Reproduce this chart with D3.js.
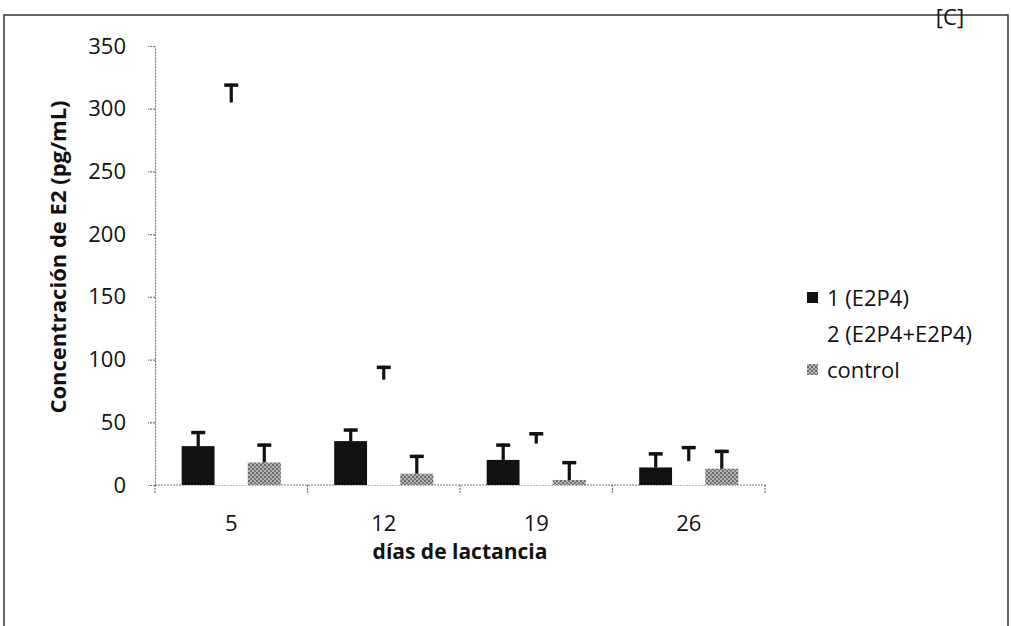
<!DOCTYPE html>
<html>
<head>
<meta charset="utf-8">
<script src="https://cdn.jsdelivr.net/npm/d3@7/dist/d3.min.js"></script>
<style>
  html, body { margin: 0; padding: 0; background: #fff; }
  svg { display: block; font-family: 'Open Sans', sans-serif; }
</style>
</head>
<body>
<div id="chart"></div>
<script>
// values
const days = ['5', '12', '19', '26'];
const seriesNames = ['1 (E2P4)', '2 (E2P4+E2P4)', 'control'];
const serie1 = [31, 35, 20, 14];
const serie1Err = [12, 10, 13, 12];
const serie2 = [305, 84, 33, 19];
const serie2Err = [15, 11, 9, 12];
const control = [18, 9, 4, 13];
const controlErr = [15, 15, 15, 15];
const yTicks = [0, 50, 100, 150, 200, 250, 300, 350];

const width = 1011;
const height = 626;

const svg = d3.select('#chart')
  .append('svg')
  .attr('width', width)
  .attr('height', height);

// stippled grey fill of the scanned control bars
const defs = svg.append('defs');
const pat = defs.append('pattern')
  .attr('id', 'stipple')
  .attr('width', 4)
  .attr('height', 4)
  .attr('patternUnits', 'userSpaceOnUse');
pat.append('rect').attr('width', 4).attr('height', 4).attr('fill', '#b4b4b4');
pat.append('rect').attr('width', 2).attr('height', 2).attr('fill', '#6a6a6a');
pat.append('rect').attr('x', 2).attr('y', 2).attr('width', 2).attr('height', 2).attr('fill', '#7a7a7a');

// outer frame (bottom edge is cut off in the scan)
svg.append('path')
  .attr('d', `M4,${height + 5}V15H1008V${height + 5}`)
  .attr('fill', 'none')
  .attr('stroke', '#333')
  .attr('stroke-width', 1.5);
svg.append('text')
  .attr('x', 950)
  .attr('y', 25)
  .attr('text-anchor', 'middle')
  .attr('font-size', 22)
  .attr('fill', '#111')
  .text('[C]');

const x = d3.scaleBand()
  .domain(days)
  .range([155, 765])
  .paddingInner(0.35)
  .paddingOuter(0.175);

const xSub = d3.scaleBand()
  .domain(d3.range(seriesNames.length))
  .range([0, x.bandwidth()]);

const y = d3.scaleLinear()
  .domain([0, 350])
  .range([485, 46]);

const axisStyle = g => {
  g.select('.domain').attr('stroke', '#777').attr('stroke-dasharray', '2,1').attr('stroke-width', 1.2);
  g.selectAll('.tick line').attr('stroke', '#777').attr('stroke-dasharray', '2,1').attr('stroke-width', 1.2);
  g.selectAll('.tick text')
    .attr('font-family', 'Open Sans, sans-serif')
    .attr('font-size', 22)
    .attr('fill', '#111');
};

// y axis
svg.append('g')
  .attr('transform', 'translate(155,0)')
  .call(d3.axisLeft(y).tickValues(yTicks).tickSize(7).tickPadding(22).tickSizeOuter(0))
  .call(axisStyle);

// x axis with ticks on category boundaries
const xAxis = svg.append('g')
  .attr('transform', `translate(0,${y(0)})`)
  .call(d3.axisBottom(x).tickSize(0).tickPadding(30).tickSizeOuter(0))
  .call(axisStyle);
xAxis.select('.domain').attr('d', `M155,0H766`);
xAxis.selectAll('.bound')
  .data(d3.range(days.length + 1))
  .join('line')
  .attr('class', 'bound')
  .attr('x1', i => 155 + i * x.step())
  .attr('x2', i => 155 + i * x.step())
  .attr('y1', 0)
  .attr('y2', 8)
  .attr('stroke', '#777')
  .attr('stroke-dasharray', '2,1')
  .attr('stroke-width', 1.2);

// bars
const series = [
  {values: serie1, err: serie1Err, fill: '#111'},
  {values: serie2, err: serie2Err, fill: '#fff'},
  {values: control, err: controlErr, fill: 'url(#stipple)'}
];

series.forEach((s, si) => {
  const g = svg.append('g');
  g.selectAll('rect')
    .data(days)
    .join('rect')
    .attr('x', (d, i) => x(d) + xSub(si))
    .attr('y', (d, i) => y(s.values[i]))
    .attr('width', xSub.bandwidth())
    .attr('height', (d, i) => y(0) - y(s.values[i]))
    .attr('fill', s.fill);

  // upper error bars only
  const cx = d => x(d) + xSub(si) + xSub.bandwidth() / 2;
  g.selectAll('.stem')
    .data(days)
    .join('line')
    .attr('class', 'stem')
    .attr('x1', cx)
    .attr('x2', cx)
    .attr('y1', (d, i) => y(s.values[i]))
    .attr('y2', (d, i) => y(s.values[i] + s.err[i]))
    .attr('stroke', '#111')
    .attr('stroke-width', 3.2);
  g.selectAll('.cap')
    .data(days)
    .join('line')
    .attr('class', 'cap')
    .attr('x1', d => cx(d) - 7)
    .attr('x2', d => cx(d) + 7)
    .attr('y1', (d, i) => y(s.values[i] + s.err[i]) + 1.5)
    .attr('y2', (d, i) => y(s.values[i] + s.err[i]) + 1.5)
    .attr('stroke', '#111')
    .attr('stroke-width', 3.5);
});

// axis titles
svg.append('text')
  .attr('transform', 'translate(66,257) rotate(-90)')
  .attr('text-anchor', 'middle')
  .attr('font-size', 22)
  .attr('font-weight', 'bold')
  .attr('fill', '#111')
  .text('Concentración de E2 (pg/mL)');

svg.append('text')
  .attr('x', 460)
  .attr('y', 559)
  .attr('text-anchor', 'middle')
  .attr('font-size', 21)
  .attr('font-weight', 'bold')
  .attr('fill', '#111')
  .text('días de lactancia');

// legend
const legend = svg.append('g')
  .attr('transform', 'translate(807,298)')
  .selectAll('g')
  .data(seriesNames)
  .join('g')
  .attr('transform', (d, i) => `translate(0,${i * 36})`);
legend.append('rect')
  .attr('y', -6)
  .attr('width', 11)
  .attr('height', 11)
  .attr('fill', (d, i) => series[i].fill);
legend.append('text')
  .attr('x', 20)
  .attr('dy', '0.35em')
  .attr('font-size', 22)
  .attr('fill', '#111')
  .text(d => d);
</script>
</body>
</html>
